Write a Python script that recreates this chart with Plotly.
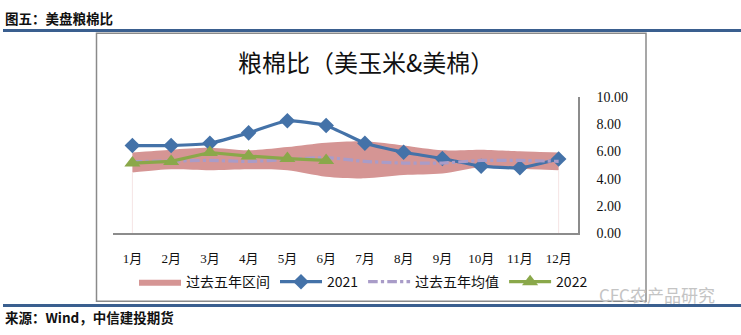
import plotly.graph_objects as go

W, H = 741, 335

months = ["1月", "2月", "3月", "4月", "5月", "6月", "7月", "8月", "9月", "10月", "11月", "12月"]
band_upper = [5.92, 6.13, 6.27, 6.08, 6.32, 6.64, 6.74, 6.43, 6.08, 6.13, 6.01, 5.92]
band_lower = [4.45, 4.69, 4.62, 4.69, 4.62, 4.15, 4.03, 4.27, 4.38, 4.85, 4.73, 4.62]
avg5 = [5.25, 5.30, 5.34, 5.27, 5.40, 5.55, 5.27, 5.15, 5.15, 5.34, 5.34, 5.27]
y2021 = [6.43, 6.43, 6.60, 7.36, 8.25, 7.90, 6.60, 5.94, 5.48, 4.92, 4.80, 5.45]
months_2022 = months[:6]
y2022 = [5.15, 5.27, 5.92, 5.66, 5.48, 5.34]
y_ticks = [0, 2, 4, 6, 8, 10]

serif = "Liberation Serif, 'Noto Sans CJK SC', serif"
cjk = "'Noto Sans CJK SC', sans-serif"

fig = go.Figure()

fig.add_trace(go.Scatter(x=months, y=band_lower, mode="lines",
                         line=dict(width=0, shape="spline", smoothing=0.8),
                         showlegend=False, hoverinfo="skip"))
fig.add_trace(go.Scatter(x=months, y=band_upper, mode="lines", name="过去五年区间",
                         line=dict(width=0, shape="spline", smoothing=0.8, color="#d59594"),
                         fill="tonexty", fillcolor="#d59594"))
# faint edge lines of the area at the first and last category
for i in (0, len(months) - 1):
    fig.add_trace(go.Scatter(x=[months[i], months[i]], y=[0, band_lower[i]], mode="lines",
                             line=dict(color="#f5e4e4", width=1), showlegend=False, hoverinfo="skip"))
fig.add_trace(go.Scatter(x=months, y=y2021, mode="lines+markers", name="2021",
                         line=dict(color="#4472a8", width=3.2, shape="spline", smoothing=0.4),
                         marker=dict(symbol="diamond", size=12, color="#4472a8")))
fig.add_trace(go.Scatter(x=months, y=avg5, mode="lines", name="过去五年均值",
                         line=dict(color="#a99cc8", width=3.2, dash="dashdot", shape="spline", smoothing=0.6)))
fig.add_trace(go.Scatter(x=months_2022, y=y2022, mode="lines+markers", name="2022",
                         line=dict(color="#8aa84a", width=3.2),
                         marker=dict(symbol="triangle-up", size=14, color="#8aa84a")))

def px_x(v):
    return v / W

def px_y(v):
    return 1 - v / H

fig.update_layout(
    width=W, height=H,
    margin=dict(l=0, r=0, t=0, b=0),
    paper_bgcolor="white", plot_bgcolor="white",
    showlegend=True,
    legend=dict(orientation="h", x=px_x(134), xanchor="left", y=px_y(288), yanchor="middle",
                font=dict(family=cjk, size=14, color="#111111"), itemwidth=42,
                traceorder="normal", bgcolor="rgba(0,0,0,0)"),
    xaxis=dict(domain=[px_x(113), px_x(578)], type="category", categoryorder="array",
               categoryarray=months, range=[-0.5, 11.5],
               showline=True, linecolor="#8c8c8c", linewidth=1.5, showgrid=False,
               ticks="", tickfont=dict(family=serif, size=13, color="#111111"),
               ticklabelstandoff=12, fixedrange=True),
    yaxis=dict(domain=[px_y(237), px_y(94)], range=[0, 10], side="right",
               showline=True, linecolor="#8c8c8c", linewidth=1.5, showgrid=False, zeroline=False,
               tickvals=y_ticks, ticktext=[f"{v:.2f}" for v in y_ticks], ticks="",
               tickfont=dict(family=serif, size=14, color="#111111"),
               ticklabelstandoff=14, fixedrange=True),
    shapes=[
        dict(type="rect", xref="paper", yref="paper", x0=px_x(96.5), x1=px_x(646), y0=px_y(308), y1=px_y(27.5),
             line=dict(color="#8a8a8a", width=1.5), layer="below"),
        dict(type="line", xref="paper", yref="paper", x0=px_x(3), x1=1, y0=px_y(24.5), y1=px_y(24.5),
             line=dict(color="#3a5f8f", width=3)),
        dict(type="line", xref="paper", yref="paper", x0=px_x(3), x1=1, y0=px_y(312.5), y1=px_y(312.5),
             line=dict(color="#3a5f8f", width=3)),
    ],
    annotations=[
        dict(text="<b>图五：美盘粮棉比</b>", xref="paper", yref="paper", x=px_x(3), y=px_y(12),
             xanchor="left", yanchor="middle", showarrow=False,
             font=dict(family=cjk, size=13.5, color="#111111")),
        dict(text="<b>来源：Wind，中信建投期货</b>", xref="paper", yref="paper", x=px_x(3), y=px_y(325),
             xanchor="left", yanchor="middle", showarrow=False,
             font=dict(family=cjk, size=13.5, color="#111111")),
        dict(text="粮棉比（美玉米&美棉）", xref="paper", yref="paper", x=px_x(366), y=px_y(57),
             xanchor="center", yanchor="middle", showarrow=False,
             font=dict(family=cjk, size=24, color="#111111")),
        dict(text="CFC农产品研究", xref="paper", yref="paper", x=px_x(657), y=px_y(301),
             xanchor="center", yanchor="middle", showarrow=False,
             font=dict(family=cjk, size=17, color="#c4c4c4")),
    ],
)

fig.write_html("out.html")
